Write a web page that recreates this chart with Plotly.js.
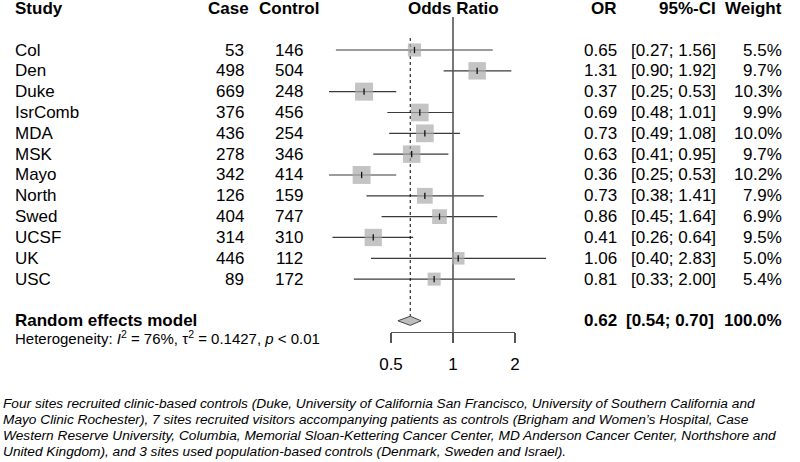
<!DOCTYPE html>
<html>
<head>
<meta charset="utf-8">
<script src="https://cdn.plot.ly/plotly-3.0.1.min.js"></script>
<style>html,body{margin:0;padding:0;background:#fff;}#chart{width:800px;height:462px;}</style>
</head>
<body>
<div id="chart"></div>
<script>
// ---- data ----
const studies  = ['Col','Den','Duke','IsrComb','MDA','MSK','Mayo','North','Swed','UCSF','UK','USC'];
const cases    = [53,498,669,376,436,278,342,126,404,314,446,89];
const controls = [146,504,248,456,254,346,414,159,747,310,112,172];
const orEst    = [0.65,1.31,0.37,0.69,0.73,0.63,0.36,0.73,0.86,0.41,1.06,0.81];
const ciLow    = [0.27,0.90,0.25,0.48,0.49,0.41,0.25,0.38,0.45,0.26,0.40,0.33];
const ciHigh   = [1.56,1.92,0.53,1.01,1.08,0.95,0.53,1.41,1.64,0.64,2.83,2.00];
const weights  = [5.5,9.7,10.3,9.9,10.0,9.7,10.2,7.9,6.9,9.5,5.0,5.4];
const pooledLabel = 'Random effects model';
const pooledEst = 0.62, pooledLow = 0.54, pooledHigh = 0.70, pooledWeight = 100.0;
const heterogeneity = 'Heterogeneity: <i>I</i><sup>2</sup> = 76%, τ<sup>2</sup> = 0.1427, <i>p</i> &lt; 0.01';
const headers = ['Study','Case','Control','Odds Ratio','OR','95%-CI','Weight'];
const tickVals = [0.5,1,2];
const tickLabels = ['0.5','1','2'];
const footnote = [
 'Four sites recruited clinic-based controls (Duke, University of California San Francisco, University of Southern California and',
 'Mayo Clinic Rochester), 7 sites recruited visitors accompanying patients as controls (Brigham and Women’s Hospital, Case',
 'Western Reserve University, Columbia, Memorial Sloan-Kettering Cancer Center, MD Anderson Cancer Center, Northshore and',
 'United Kingdom), and 3 sites used population-based controls (Denmark, Sweden and Israel).'
];

// ---- geometry ----
const W = 800, H = 462;
const rowTop = 50, rowH = 20.83;        // pixel y of first row, row height
const xOnePx = 453, pxPerLog10 = 62 / Math.log10(2);
const pooledRow = 13, hetRow = 13.8, headerRow = -2;
const axisPx = 332;
const FONT = '"Liberation Sans", Arial, Helvetica, sans-serif';
const fmt2 = v => v.toFixed(2);
const px2paper = p => p / W;

const yRange = [(H - rowTop) / rowH, (0 - rowTop) / rowH];
const xRange = [(0 - xOnePx) / pxPerLog10, (W - xOnePx) / pxPerLog10];
const pxToRow = p => (p - rowTop) / rowH;

const rows = studies.map((s, i) => i);
const traces = [];

// CI lines
const lx = [], ly = [];
rows.forEach(i => { lx.push(ciLow[i], ciHigh[i], null); ly.push(i, i, null); });
traces.push({type:'scatter', mode:'lines', x:lx, y:ly, line:{color:'#3a3a3a', width:1.2}, hoverinfo:'skip'});

// reference line at 1
traces.push({type:'scatter', mode:'lines', x:[1,1], y:[pxToRow(17), pxToRow(axisPx)],
  line:{color:'#555555', width:1.6}, hoverinfo:'skip'});
// pooled dotted line
traces.push({type:'scatter', mode:'lines', x:[pooledEst,pooledEst], y:[pxToRow(38), pooledRow - 0.22],
  line:{color:'#000000', width:1, dash:'dot'}, hoverinfo:'skip'});

// squares
traces.push({type:'scatter', mode:'markers', x:orEst, y:rows,
  marker:{symbol:'square', color:'#ababab', size:weights.map(w => 18 * Math.sqrt(w / 10.3)), line:{width:0}},
  hoverinfo:'skip'});
// center ticks
traces.push({type:'scatter', mode:'markers', x:orEst, y:rows,
  marker:{symbol:'line-ns', size:4.5, color:'#000', line:{color:'#111', width:1.3}}, hoverinfo:'skip'});

// diamond
const dh = 0.22;
traces.push({type:'scatter', mode:'lines', fill:'toself', fillcolor:'#bebebe',
  x:[pooledLow, pooledEst, pooledHigh, pooledEst, pooledLow],
  y:[pooledRow, pooledRow - dh, pooledRow, pooledRow + dh, pooledRow],
  line:{color:'#444444', width:1}, hoverinfo:'skip'});

// dummy trace for bottom axis
traces.push({type:'scatter', mode:'markers', x:tickVals, y:[0,0,0], xaxis:'x2', yaxis:'y2',
  marker:{opacity:0}, hoverinfo:'skip'});

// ---- annotations ----
const ann = [];
function txt(text, xPx, row, anchor, opts) {
  const a = Object.assign({text:text, x:px2paper(xPx), xref:'paper', y:row, yref:'y',
    xanchor:anchor, yanchor:'middle', showarrow:false, borderpad:0,
    font:{family:FONT, size:17, color:'#000'}}, opts || {});
  ann.push(a);
}
// headers
txt('<b>'+headers[0]+'</b>', 14, headerRow, 'left');
txt('<b>'+headers[1]+'</b>', 250, headerRow, 'right');
txt('<b>'+headers[2]+'</b>', 320, headerRow, 'right');
ann.push({text:'<b>'+headers[3]+'</b>', x:Math.log10(1), xref:'x', y:headerRow, yref:'y', xanchor:'center',
  yanchor:'middle', showarrow:false, borderpad:0, font:{family:FONT, size:17, color:'#000'}});
txt('<b>'+headers[4]+'</b>', 618, headerRow, 'right');
txt('<b>'+headers[5]+'</b>', 717, headerRow, 'right');
txt('<b>'+headers[6]+'</b>', 783, headerRow, 'right');

rows.forEach(i => {
  txt(String(cases[i]), 245, i, 'right');
  txt(studies[i], 14, i, 'left');
  txt(String(controls[i]), 304, i, 'right');
  txt(fmt2(orEst[i]), 618, i, 'right');
  txt('[' + fmt2(ciLow[i]) + '; ' + fmt2(ciHigh[i]) + ']', 717, i, 'right');
  txt(weights[i].toFixed(1) + '%', 783, i, 'right');
});
txt('<b>'+pooledLabel+'</b>', 14, pooledRow, 'left');
txt('<b>'+fmt2(pooledEst)+'</b>', 618, pooledRow, 'right');
txt('<b>[' + fmt2(pooledLow) + '; ' + fmt2(pooledHigh) + ']</b>', 715, pooledRow, 'right');
txt('<b>'+pooledWeight.toFixed(1)+'%</b>', 783, pooledRow, 'right');
txt(heterogeneity, 14, hetRow, 'left', {font:{family:FONT, size:15, color:'#000'}});

const footY = [403, 419.5, 435.5, 451.5];
footnote.forEach((line, k) => {
  ann.push({text:'<i>'+line+'</i>', x:px2paper(2), xref:'paper', y:1 - footY[k] / H, yref:'paper',
    xanchor:'left', yanchor:'middle', showarrow:false, borderpad:0,
    font:{family:FONT, size:13.7, color:'#000'}});
});

const layout = {
  width:W, height:H, margin:{l:0,r:0,t:0,b:0}, paper_bgcolor:'#fff', plot_bgcolor:'rgba(0,0,0,0)',
  showlegend:false, hovermode:false,
  xaxis:{type:'log', range:xRange, visible:false, fixedrange:true, domain:[0,1]},
  yaxis:{range:yRange, visible:false, fixedrange:true, domain:[0,1]},
  xaxis2:{type:'log', anchor:'y2',
    domain:[px2paper(xOnePx - 62), px2paper(xOnePx + 62)],
    range:[Math.log10(tickVals[0]), Math.log10(tickVals[2])],
    showline:true, linecolor:'#555555', linewidth:1.3, showgrid:false, zeroline:false,
    ticks:'outside', ticklen:10, tickwidth:1.3, tickcolor:'#555555',
    tickmode:'array', tickvals:tickVals, ticktext:tickLabels, ticklabelstandoff:6,
    tickfont:{family:FONT, size:17, color:'#000'}, fixedrange:true},
  yaxis2:{anchor:'x2', domain:[1 - axisPx / H, 1 - (axisPx - 5) / H], visible:false, range:[-1,1], fixedrange:true},
  annotations:ann
};
Plotly.newPlot('chart', traces, layout, {staticPlot:true, displayModeBar:false});
</script>
</body>
</html>
